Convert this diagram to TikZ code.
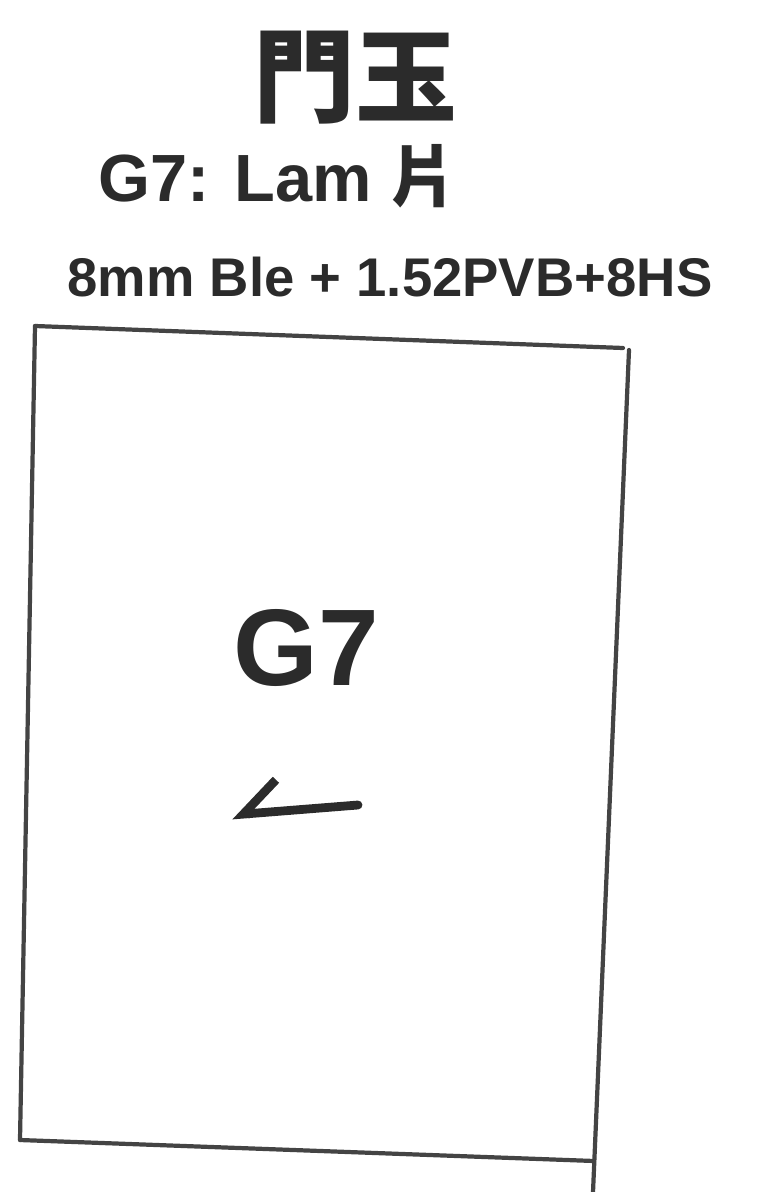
\documentclass[tikz,border=0pt]{standalone}
\usepackage{fontspec}
\setmainfont{Liberation Sans}
\newfontfamily\cjkfont{Noto Sans CJK TC}
\usetikzlibrary{arrows.meta}
\usepackage{xcolor}
\definecolor{inkdark}{HTML}{2B2B2B}
\definecolor{inkline}{HTML}{444444}

\begin{document}
\begin{tikzpicture}[x=0.02cm, y=-0.02cm,
    hand/.style={text=inkdark, font=\bfseries, inner sep=0pt},
    frame/.style={draw=inkline, line width=2.4pt, line cap=round}]
    \useasboundingbox (0,0) rectangle (763,1192);
    % heading
    \node[hand, font=\cjkfont\bfseries\fontsize{58}{60}\selectfont] (title) at (355,78) {門玉};
    \node[hand, font=\bfseries\fontsize{38}{40}\selectfont] (kind) at (278,176) {G7: Lam {\cjkfont 片}};
    \node[hand, font=\bfseries\fontsize{31}{33}\selectfont] (spec) at (390,277) {8mm Ble + 1.52PVB+8HS};
    % door panel
    \coordinate (tl) at (35,326);
    \coordinate (tr) at (623,348);
    \coordinate (rt) at (629,350);
    \coordinate (rb) at (593,1192);
    \coordinate (bl) at (20,1140);
    \coordinate (br) at (594,1161);
    \draw[frame] (tl) -- (tr);
    \draw[frame] (rt) -- (rb);
    \draw[frame] (tl) -- (bl);
    \draw[frame] (bl) -- (br);
    % panel mark
    \node[hand, font=\bfseries\fontsize{62}{64}\selectfont] (gname) at (306,648) {G7};
    \coordinate (arrR) at (358,805);
    \coordinate (arrL) at (232,815);
    \draw[inkdark, line width=5pt, line cap=round,
          -{Straight Barb[harpoon, swap, length=20pt, width=36pt, line width=5pt]}] (arrR) -- (arrL);
\end{tikzpicture}
\end{document}
